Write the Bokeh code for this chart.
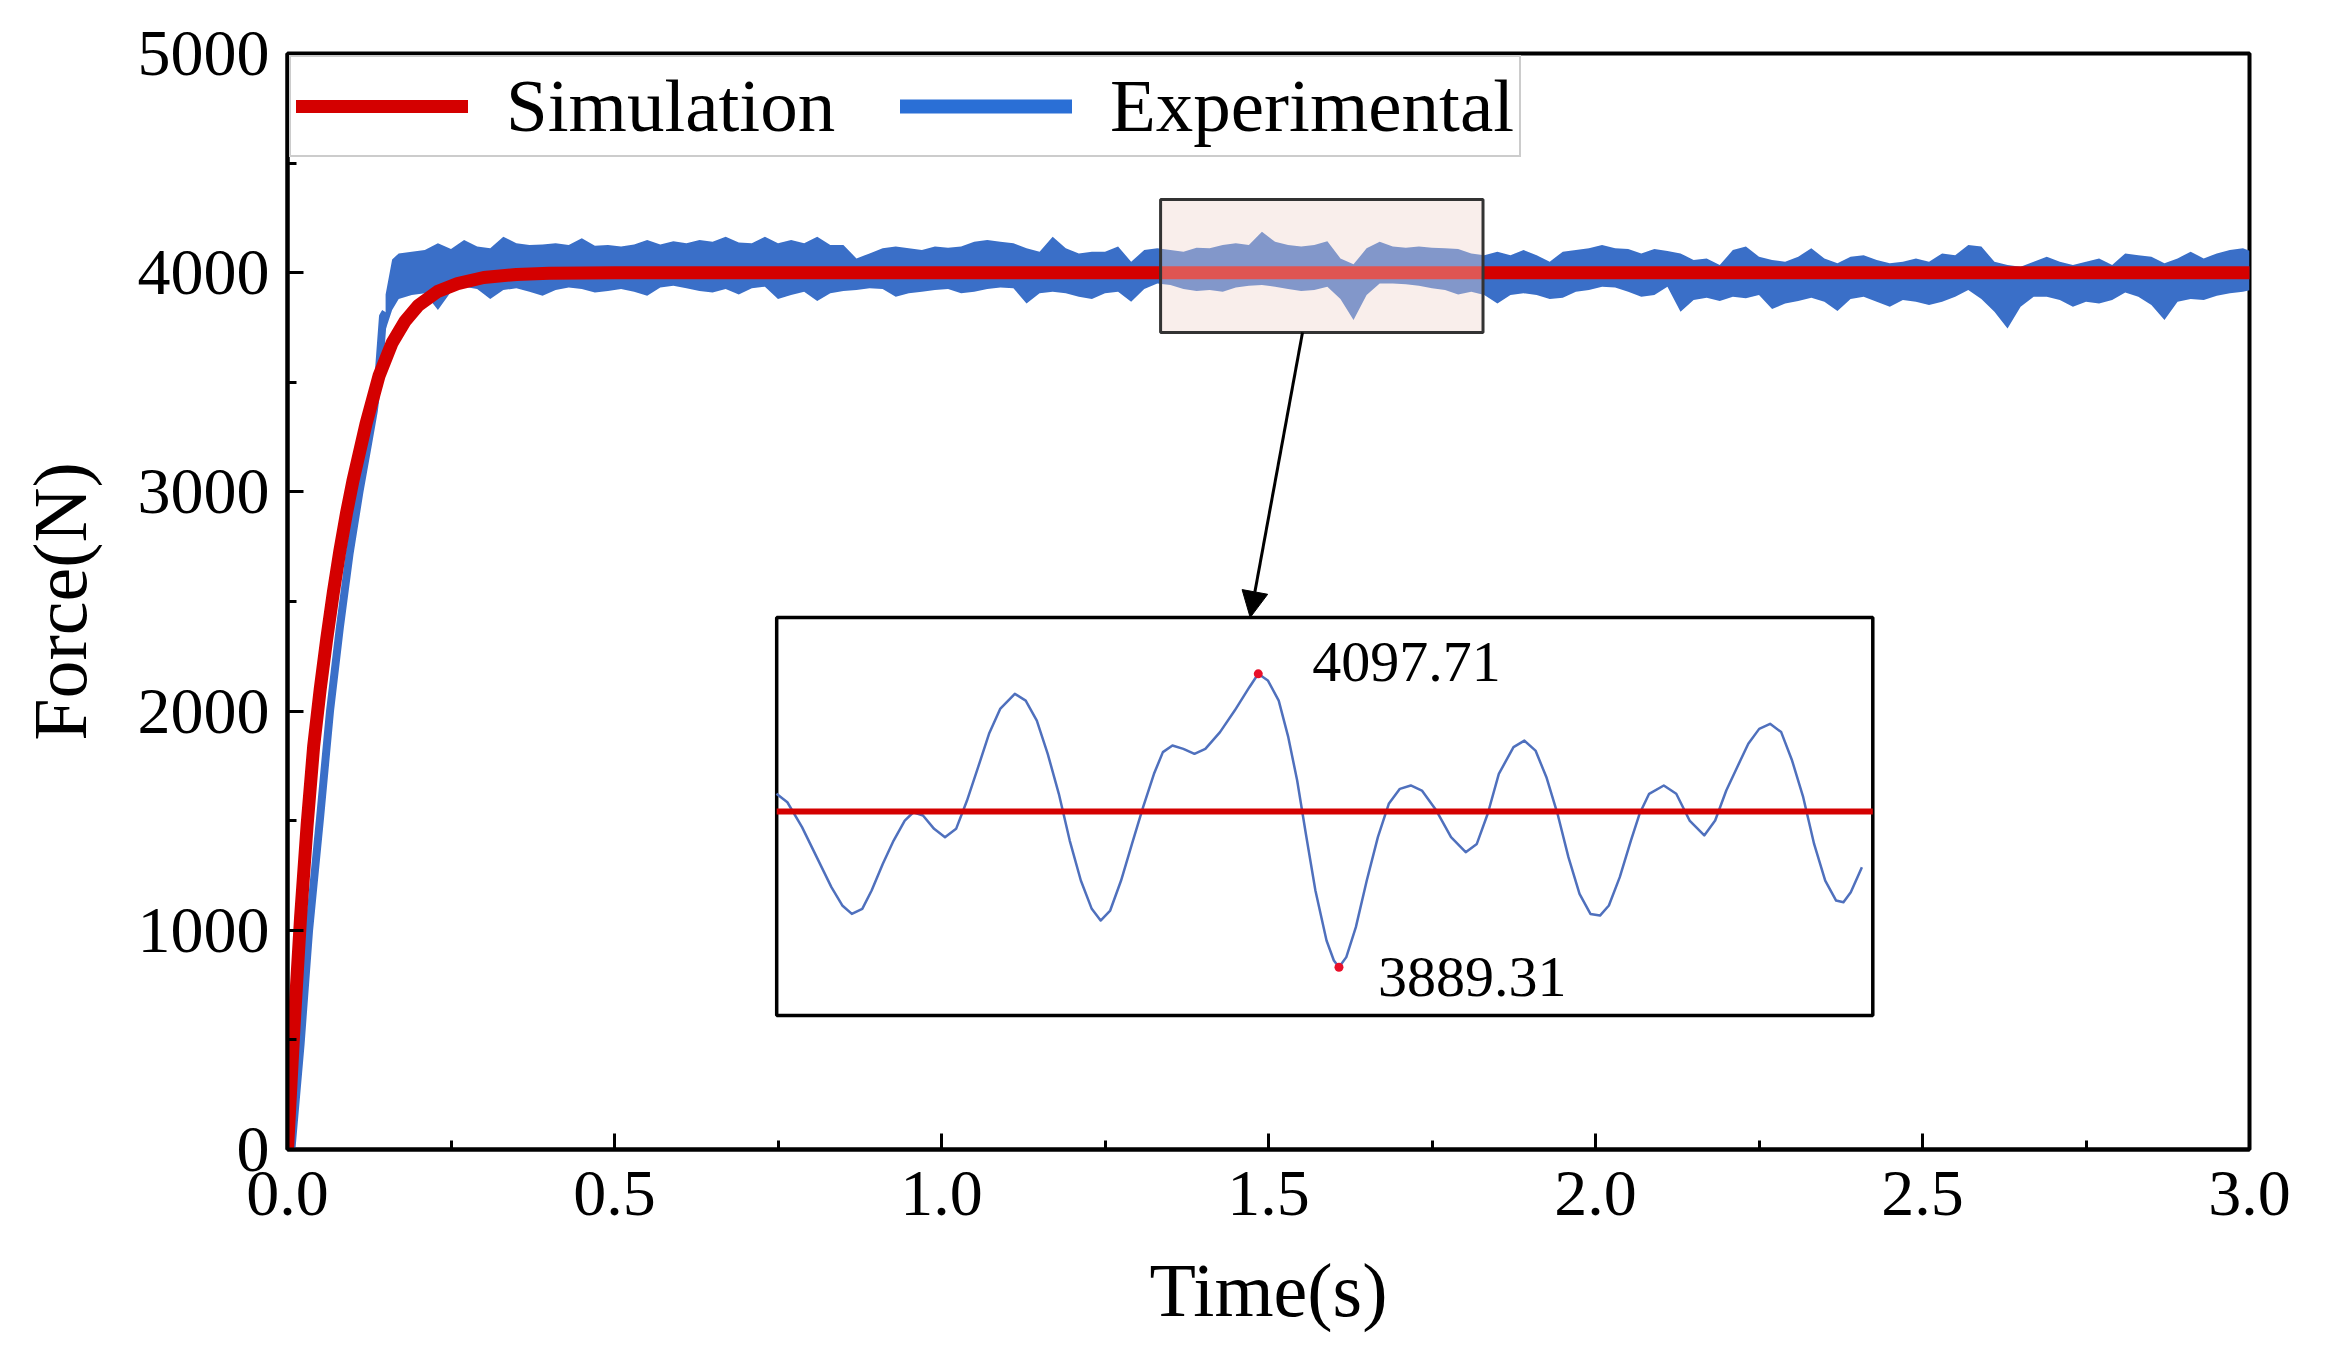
import numpy as np
from bokeh.plotting import figure
from bokeh.models import (Range1d, SingleIntervalTicker, NumeralTickFormatter,
                          Legend, LegendItem, Arrow, NormalHead)
from bokeh.embed import file_html
from bokeh.resources import INLINE
from bokeh.core.properties import value

FONT = "Liberation Serif"
RED = "#d40000"
BLUE = "#3a6fc8"
BLUE_LEG = "#2a6fd6"

# ---- simulation response (N) ----
sim_t = [0, 0.01, 0.02, 0.03, 0.04, 0.05, 0.06, 0.07, 0.08, 0.09, 0.10, 0.12,
         0.14, 0.16, 0.18, 0.20, 0.23, 0.26, 0.30, 0.35, 0.40, 0.50, 3.0]
sim_force = [0, 560, 1060, 1480, 1840, 2100, 2330, 2540, 2730, 2900, 3050, 3310,
             3530, 3680, 3780, 3850, 3915, 3950, 3978, 3992, 3997, 4000, 4000]

# ---- experimental: rising part ----
exp_rise_t = [0.006, 0.02, 0.033, 0.05, 0.065, 0.08, 0.095, 0.11, 0.122, 0.132,
              0.14, 0.146, 0.15]
exp_rise_force = [0, 480, 1000, 1520, 2000, 2380, 2720, 3000, 3200, 3370,
                  3560, 3800, 3820]

# ---- experimental: noisy steady part, upper / lower envelope ----
band_t = [0.15, 0.16] + [round(0.17 + 0.02 * i, 2) for i in range(142)] + [3.0]
band_upper = [3900, 4060,
    4088, 4096, 4103, 4134, 4108, 4149, 4119, 4111, 4164, 4134, 4126, 4129, 4134,
    4126, 4157, 4123, 4126, 4119, 4129, 4149, 4129, 4144, 4134, 4149, 4141, 4164,
    4138, 4134, 4164, 4134, 4149, 4134, 4164, 4126, 4126, 4065, 4088, 4111, 4119,
    4111, 4103, 4119, 4114,
    4119, 4141, 4149, 4141, 4134, 4111, 4096, 4164, 4111, 4088, 4096, 4096, 4119,
    4050, 4103, 4111, 4103, 4096, 4114, 4111, 4126, 4134, 4126, 4187, 4141, 4126,
    4119, 4126, 4144, 4065, 4038, 4111, 4141, 4119, 4114, 4119, 4114, 4111, 4108,
    4088, 4080, 4096, 4080, 4103, 4080, 4050, 4096, 4103, 4111, 4126,
    4111, 4108, 4088, 4108, 4099, 4088, 4058, 4065, 4035, 4103, 4119, 4073, 4058,
    4050, 4073, 4111, 4065, 4043, 4073, 4080, 4058, 4043, 4050, 4065, 4050, 4088,
    4080, 4126, 4119, 4050, 4035, 4027, 4050, 4073, 4050, 4035, 4050, 4065, 4035,
    4088, 4080, 4073, 4043, 4065, 4096, 4065, 4088, 4103, 4111,
    4100]
band_lower = [3740, 3830,
    3880, 3898, 3906, 3830, 3913, 3936, 3926, 3880, 3921, 3929, 3913, 3895, 3921,
    3932, 3926, 3910, 3916, 3926, 3913, 3895, 3932, 3941, 3929, 3916, 3910, 3926,
    3901, 3929, 3936, 3880, 3898, 3913, 3871, 3906, 3916, 3921, 3929, 3926, 3890,
    3906, 3913, 3921, 3926,
    3906, 3913, 3926, 3932, 3929, 3860, 3906, 3913, 3906, 3890, 3880, 3906, 3913,
    3868, 3926, 3951, 3944, 3926, 3916, 3921, 3913, 3932, 3941, 3944, 3936, 3926,
    3916, 3921, 3936, 3880, 3784, 3898, 3951, 3951, 3947, 3941, 3929, 3921, 3901,
    3913, 3898, 3860, 3898, 3906, 3898, 3880, 3886, 3913, 3921, 3936,
    3932, 3913, 3890, 3898, 3936, 3822, 3875, 3886, 3871, 3890, 3883, 3898, 3834,
    3860, 3871, 3886, 3868, 3825, 3880, 3890, 3868, 3845, 3875, 3868, 3853, 3868,
    3890, 3921, 3880, 3822, 3746, 3845, 3890, 3890, 3875, 3845, 3868, 3860, 3875,
    3910, 3890, 3853, 3784, 3868, 3880, 3875, 3895, 3906, 3913,
    3920]

# ---- zoom window and inset ----
zoom_t = [1.335, 1.828]
zoom_force = [3727, 4334]
inset_box_t = [0.748, 2.424]
inset_box_force = [611, 2427]
inset_range_force = [3855.0, 4137.7]

inset_t = [1.3349, 1.3398, 1.3464, 1.3530, 1.3596, 1.3645, 1.3688, 1.3735, 1.3777,
           1.3827, 1.3876, 1.3926, 1.3965, 1.4008, 1.4058, 1.4107, 1.4157, 1.4206,
           1.4256, 1.4305, 1.4355, 1.4421, 1.4470, 1.4520, 1.4569, 1.4619, 1.4668,
           1.4718, 1.4767, 1.4807, 1.4850, 1.4899, 1.4948, 1.4998, 1.5047, 1.5087,
           1.5130, 1.5179, 1.5229, 1.5278, 1.5344, 1.5410, 1.5476, 1.5516, 1.5559,
           1.5608, 1.5651, 1.5691, 1.5730, 1.5773, 1.5823, 1.5856, 1.5879, 1.5912,
           1.5955, 1.6004, 1.6054, 1.6103, 1.6153, 1.6202, 1.6252, 1.6317, 1.6383,
           1.6449, 1.6499, 1.6548, 1.6598, 1.6664, 1.6713, 1.6763, 1.6812, 1.6862,
           1.6911, 1.6961, 1.7010, 1.7053, 1.7093, 1.7142, 1.7192, 1.7231, 1.7274,
           1.7340, 1.7396, 1.7456, 1.7522, 1.7571, 1.7621, 1.7670, 1.7720, 1.7769,
           1.7818, 1.7868, 1.7917, 1.7967, 1.8016, 1.8066, 1.8115, 1.8148, 1.8181,
           1.8231]
inset_force = [4012.5, 4006.5, 3988.8, 3967.5, 3946.2, 3933.2, 3927.2, 3930.8, 3943.8,
               3962.7, 3979.3, 3993.5, 3999.4, 3997.1, 3987.6, 3981.7, 3987.6, 4007.7,
               4031.4, 4055.1, 4072.8, 4083.5, 4078.7, 4064.5, 4040.9, 4012.5, 3979.3,
               3950.9, 3930.8, 3922.5, 3929.6, 3950.9, 3976.9, 4003.0, 4026.7, 4042.1,
               4046.8, 4044.4, 4040.9, 4044.4, 4056.3, 4071.6, 4088.2, 4097.71, 4093.0,
               4078.7, 4052.7, 4021.9, 3984.1, 3943.8, 3908.3, 3894.1, 3889.31, 3896.5,
               3917.8, 3950.9, 3981.7, 4005.4, 4016.0, 4018.4, 4014.8, 4000.6, 3981.7,
               3971.0, 3976.9, 3998.3, 4026.7, 4045.6, 4050.3, 4043.2, 4024.3, 3998.3,
               3967.5, 3941.4, 3927.2, 3926.0, 3933.2, 3953.3, 3979.3, 3998.3, 4012.5,
               4018.4, 4012.5, 3993.5, 3982.9, 3993.5, 4014.8, 4031.4, 4048.0, 4058.6,
               4062.2, 4056.3, 4036.1, 4010.1, 3976.9, 3950.9, 3936.7, 3935.5, 3942.6,
               3960.4]
peak_t, peak_force = 1.5516, 4097.71
trough_t, trough_force = 1.5879, 3889.31

x_ticks_interval = 0.5
y_ticks_interval = 1000

p = figure(width=2352, height=1360, x_range=Range1d(0, 3), y_range=Range1d(0, 5000),
           output_backend="svg", toolbar_location=None,
           min_border_left=287, min_border_right=103, min_border_top=53,
           min_border_bottom=211)
p.grid.visible = False
p.background_fill_color = "white"
p.border_fill_color = "white"
p.outline_line_color = "black"
p.outline_line_width = 4
p.outline_line_alpha = 1

p.xaxis.ticker = SingleIntervalTicker(interval=x_ticks_interval, num_minor_ticks=2)
p.yaxis.ticker = SingleIntervalTicker(interval=y_ticks_interval, num_minor_ticks=2)
p.xaxis.formatter = NumeralTickFormatter(format="0.0")
p.yaxis.formatter = NumeralTickFormatter(format="0")
for ax in (p.xaxis[0], p.yaxis[0]):
    ax.axis_line_width = 4
    ax.axis_line_color = "black"
    ax.major_tick_in = 16
    ax.major_tick_out = 0
    ax.minor_tick_in = 9
    ax.minor_tick_out = 0
    ax.major_tick_line_width = 3
    ax.minor_tick_line_width = 3
    ax.major_tick_line_color = "black"
    ax.minor_tick_line_color = "black"
    ax.major_label_text_font = FONT
    ax.major_label_text_font_size = "66px"
    ax.major_label_text_color = "black"
    ax.axis_label_text_font = FONT
    ax.axis_label_text_font_size = "76px"
    ax.axis_label_text_font_style = "normal"
    ax.axis_label_text_color = "black"
p.xaxis.axis_label = "Time(s)"
p.yaxis.axis_label = "Force(N)"
p.xaxis.major_label_standoff = 22
p.yaxis.major_label_standoff = 18
p.xaxis.axis_label_standoff = 30
p.yaxis.axis_label_standoff = 33

# experimental data
p.varea(x=band_t, y1=band_lower, y2=band_upper, fill_color=BLUE, fill_alpha=1)
p.line(exp_rise_t, exp_rise_force, line_width=8, line_color=BLUE, line_join="round")
exp_leg = p.line(x=[np.nan], y=[np.nan], line_width=14, line_color=BLUE_LEG, line_cap="round")

# simulation
sim_r = p.line(sim_t, sim_force, line_width=13, line_color=RED,
               line_cap="round", line_join="round")

# zoom window
p.quad(left=[zoom_t[0]], right=[zoom_t[1]], bottom=[zoom_force[0]], top=[zoom_force[1]],
       fill_color="#f0d4ce", fill_alpha=0.4, line_color="#333333", line_width=3)

# arrow from zoom window to inset
p.add_layout(Arrow(end=NormalHead(size=26, fill_color="black", line_color="black"),
                   x_start=1.552, y_start=zoom_force[0], x_end=1.472, y_end=inset_box_force[1],
                   line_width=3, line_color="black"))

# inset box
p.quad(left=[inset_box_t[0]], right=[inset_box_t[1]], bottom=[inset_box_force[0]],
       top=[inset_box_force[1]], fill_color="white", line_color="black", line_width=3.5)

sub = p.subplot(x_source=Range1d(zoom_t[0], zoom_t[1]),
                y_source=Range1d(inset_range_force[0], inset_range_force[1]),
                x_target=Range1d(inset_box_t[0], inset_box_t[1]),
                y_target=Range1d(inset_box_force[0], inset_box_force[1]))
sub.line(inset_t, inset_force, line_width=2.5, line_color="#4f70bd", line_join="round")
sim_in_window = list(np.interp(zoom_t, sim_t, sim_force))
sub.line(zoom_t, sim_in_window, line_width=6, line_color=RED)
sub.scatter(x=[peak_t, trough_t], y=[peak_force, trough_force], size=9,
            fill_color="#e8102a", line_color=None)
sub.text(x=[peak_t], y=[peak_force], text=[f"{peak_force:.2f}"], x_offset=54, y_offset=-12,
         text_font=value(FONT), text_font_size=value("58px"), text_baseline="middle",
         text_align="left", text_color="black")
sub.text(x=[trough_t], y=[trough_force], text=[f"{trough_force:.2f}"], x_offset=39, y_offset=10,
         text_font=value(FONT), text_font_size=value("58px"), text_baseline="middle",
         text_align="left", text_color="black")

legend = Legend(items=[LegendItem(label="Simulation", renderers=[sim_r]),
                       LegendItem(label="Experimental", renderers=[exp_leg])],
                location="top_left", orientation="horizontal",
                margin=2, padding=5, spacing=0, label_width=394,
                glyph_width=172, glyph_height=88, label_height=88, label_standoff=38,
                label_text_font=FONT, label_text_font_size="75px",
                label_text_color="black",
                border_line_color="#9a9a9a", border_line_width=2,
                background_fill_color="white", background_fill_alpha=1)
p.add_layout(legend)

open("out.html", "w").write(file_html(p, INLINE))
